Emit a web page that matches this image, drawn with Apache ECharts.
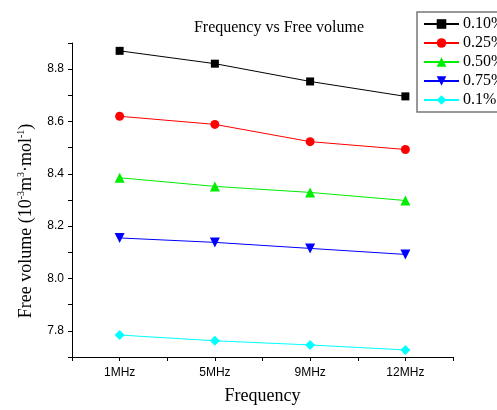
<!DOCTYPE html>
<html>
<head>
<meta charset="utf-8">
<script src="https://cdn.jsdelivr.net/npm/echarts@6/dist/echarts.min.js"></script>
<style>html,body{margin:0;padding:0;background:#fff;}#c{width:497px;height:410px;}</style>
</head>
<body>
<div id="c"></div>
<script>
var categories = ['1MHz', '5MHz', '9MHz', '12MHz'];
var seriesNames = ['0.10%', '0.25%', '0.50%', '0.75%', '0.1%'];
var s010 = [8.870, 8.821, 8.753, 8.696];
var s025 = [8.620, 8.589, 8.523, 8.493];
var s050 = [8.385, 8.352, 8.329, 8.298];
var s075 = [8.155, 8.138, 8.115, 8.092];
var s01 = [7.784, 7.762, 7.746, 7.727];
var yTickLabels = ['7.8', '8.0', '8.2', '8.4', '8.6', '8.8'];

var colors = ['#000000', '#ff0000', '#00ee00', '#0000ff', '#00ffff'];
var symbols = ['rect', 'circle', 'triangle', 'triangle', 'diamond'];
var rotates = [0, 0, 0, 180, 0];
var sizes = [8, 9, 10, 10, 10];
var allData = [s010, s025, s050, s075, s01];

function toPairs(arr) {
  return arr.map(function (v, i) { return [i + 1, v]; });
}

var serif = '"Liberation Serif", "Times New Roman", serif';
var sans = '"Liberation Sans", Arial, sans-serif';

var series = allData.map(function (d, k) {
  return {
    name: seriesNames[k],
    type: 'line',
    data: toPairs(d),
    symbol: symbols[k],
    symbolRotate: rotates[k],
    symbolSize: sizes[k],
    showAllSymbol: true,
    lineStyle: { color: colors[k], width: 1 },
    itemStyle: { color: colors[k] },
    emphasis: { disabled: true },
    animation: false
  };
});

var chart = echarts.init(document.getElementById('c'), null, { renderer: 'canvas' });
chart.setOption({
  backgroundColor: '#ffffff',
  animation: false,
  title: {
    text: 'Frequency vs Free volume',
    left: 274,
    textAlign: 'center',
    top: 15,
    textStyle: { fontFamily: serif, fontSize: 16, fontWeight: 'normal', color: '#000' }
  },
  legend: {
    orient: 'vertical',
    left: 417,
    top: 12,
    padding: [4, 8, 4, 6],
    itemWidth: 35,
    itemHeight: 12,
    itemGap: 3,
    borderColor: '#777',
    borderWidth: 1.5,
    textStyle: { fontFamily: serif, fontSize: 16, lineHeight: 16, color: '#000', padding: [0, 0, 0, -1] },
    data: seriesNames
  },
  grid: { left: 72, right: 44, top: 43, bottom: 48, containLabel: false },
  xAxis: {
    type: 'value',
    min: 0.5,
    max: 4.5,
    interval: 0.5,
    name: 'Frequency',
    nameLocation: 'middle',
    nameGap: 30,
    nameTextStyle: { fontFamily: serif, fontSize: 18, color: '#000' },
    axisLine: { show: true, lineStyle: { color: '#000', width: 1 } },
    axisTick: { show: true, length: 4, lineStyle: { color: '#000' } },
    axisLabel: {
      show: true,
      margin: 10,
      fontFamily: sans,
      fontSize: 12,
      color: '#000',
      formatter: function (v) {
        var i = Math.round(v * 2);
        if (i % 2 !== 0) return '';
        return categories[i / 2 - 1] || '';
      }
    },
    splitLine: { show: false }
  },
  yAxis: {
    type: 'value',
    min: 7.7,
    max: 8.9,
    interval: 0.1,
    name: '{b|Free volume (10}{s|-3}{b|m}{s|3}{b|·mol}{s|-1}{b|)}',
    nameLocation: 'middle',
    nameGap: 36,
    nameTextStyle: {
      fontFamily: serif, fontSize: 18, color: '#000', padding: [0, 42, 0, 0],
      rich: {
        b: { fontFamily: serif, fontSize: 18, color: '#000', lineHeight: 20 },
        s: { fontFamily: serif, fontSize: 10, color: '#000', verticalAlign: 'top', lineHeight: 20 }
      }
    },
    axisLine: { show: true, lineStyle: { color: '#000', width: 1 } },
    axisTick: { show: true, length: 4, lineStyle: { color: '#000' } },
    axisLabel: {
      show: true,
      margin: 8,
      fontFamily: sans,
      fontSize: 12,
      color: '#000',
      formatter: function (v) {
        var s = v.toFixed(1);
        return yTickLabels.indexOf(s) >= 0 ? s : '';
      }
    },
    splitLine: { show: false }
  },
  series: series
});
</script>
</body>
</html>
